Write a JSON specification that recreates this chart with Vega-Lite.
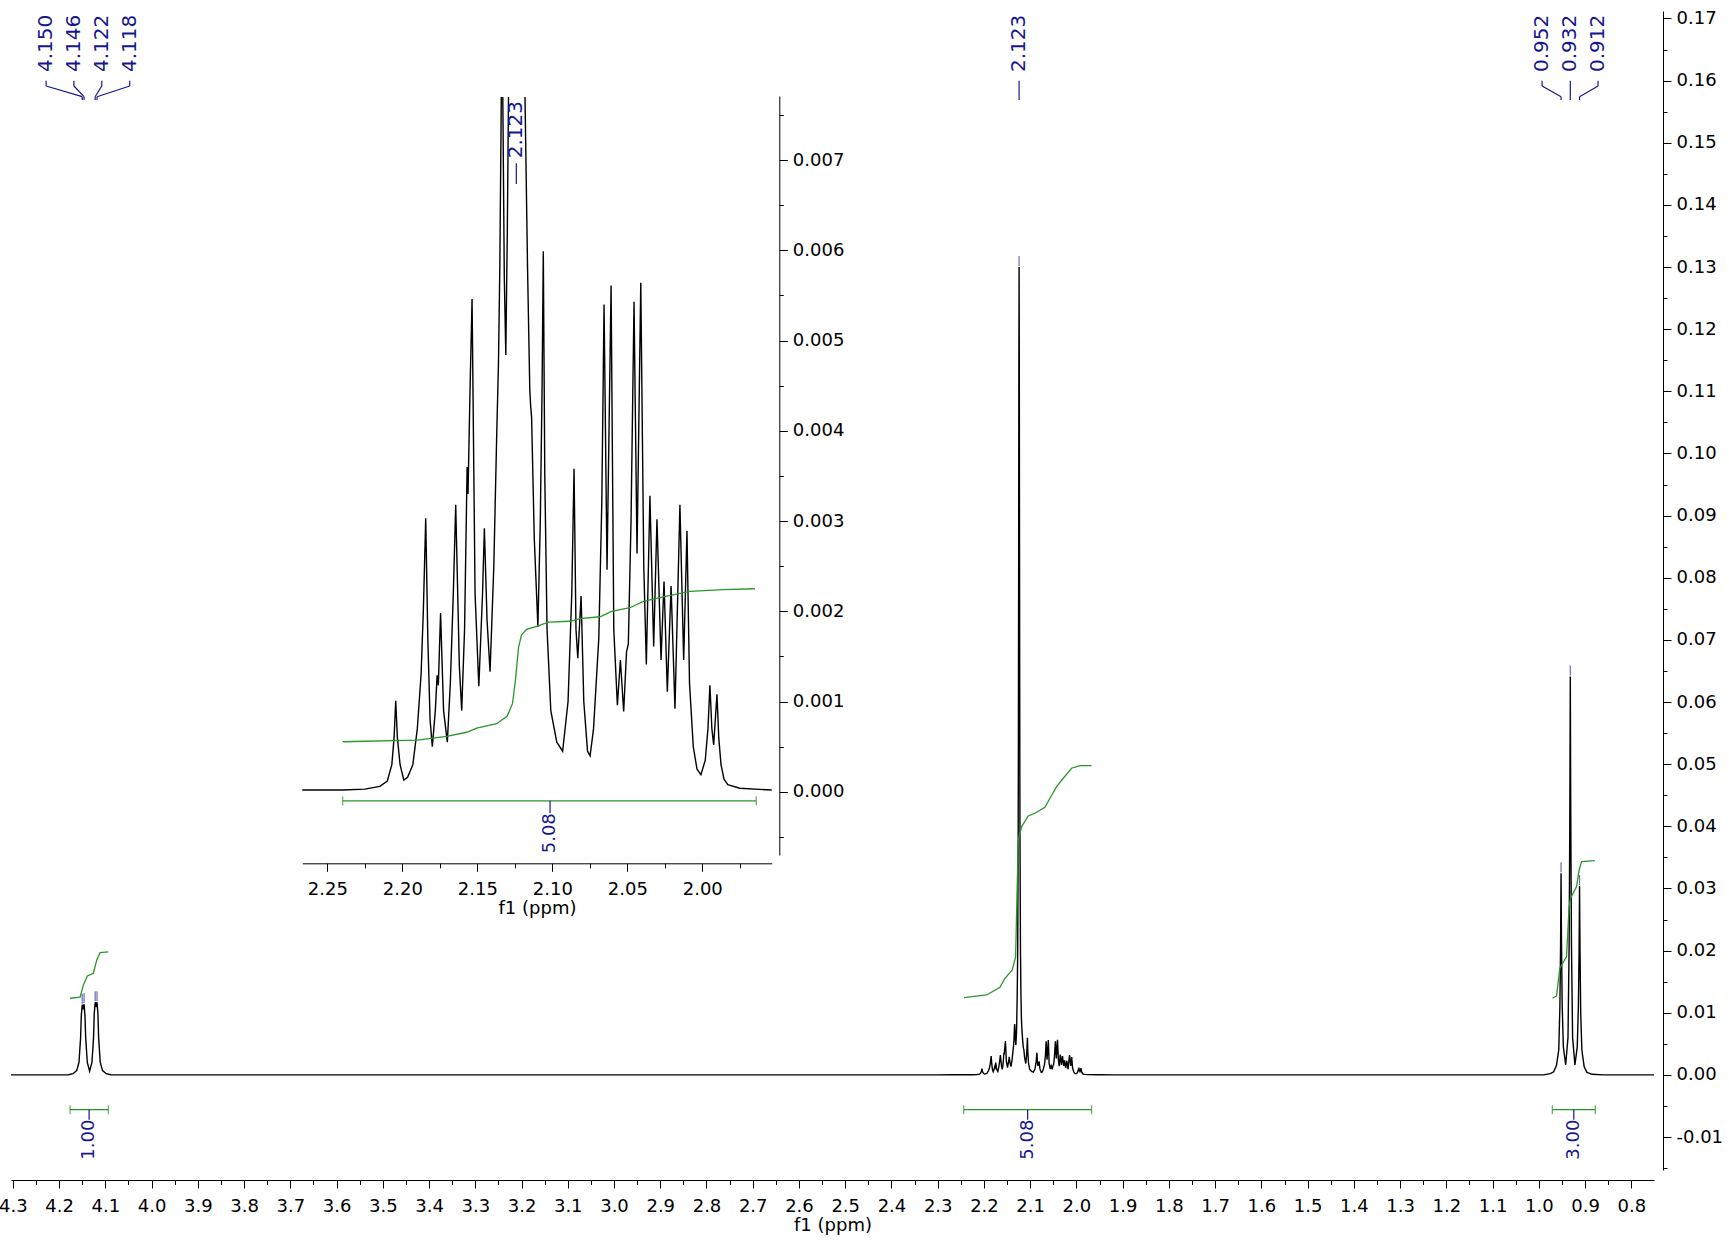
{
 "$schema": "https://vega.github.io/schema/vega-lite/v6.json",
 "width": 1643,
 "height": 1159,
 "autosize": {"type": "none"},
 "padding": {"left": 11, "top": 11, "right": 75, "bottom": 70},
 "background": "white",
 "config": {
  "view": {"stroke": null},
  "axis": {"grid": false, "labelFont": "DejaVu Sans", "labelFontSize": 18, "labelColor": "#000", "titleFont": "DejaVu Sans", "titleFontSize": 18, "titleFontWeight": "normal", "titleColor": "#000", "domainColor": "#000", "tickColor": "#000", "domainWidth": 1, "tickWidth": 1, "labelFlush": false, "labelOverlap": false}
 },
 "datasets": {
  "spec": [
   {"p":4.304,"v":0,"s":"a"},{"p":4.2,"v":0,"s":"a"},{"p":4.180,"v":0.00003,"s":"a"},{"p":4.170,"v":0.0002,"s":"a"},{"p":4.162,"v":0.0007,"s":"a"},{"p":4.157,"v":0.002,"s":"a"},{"p":4.1535,"v":0.006,"s":"a"},{"p":4.152,"v":0.0095,"s":"a"},{"p":4.150,"v":0.0113,"s":"a"},{"p":4.148,"v":0.0108,"s":"a"},{"p":4.146,"v":0.0114,"s":"a"},{"p":4.144,"v":0.0095,"s":"a"},{"p":4.1425,"v":0.006,"s":"a"},{"p":4.139,"v":0.002,"s":"a"},{"p":4.134,"v":0.0006,"s":"a"},{"p":4.129,"v":0.002,"s":"a"},{"p":4.1255,"v":0.006,"s":"a"},{"p":4.124,"v":0.0098,"s":"a"},{"p":4.122,"v":0.0117,"s":"a"},{"p":4.120,"v":0.0112,"s":"a"},{"p":4.118,"v":0.0117,"s":"a"},{"p":4.116,"v":0.0098,"s":"a"},{"p":4.1145,"v":0.006,"s":"a"},{"p":4.111,"v":0.002,"s":"a"},{"p":4.106,"v":0.0007,"s":"a"},{"p":4.098,"v":0.0002,"s":"a"},{"p":4.088,"v":0.00003,"s":"a"},{"p":4.06,"v":0,"s":"a"},
   {"p":2.30,"v":0,"s":"a"},{"p":2.2667,"v":0.00002,"s":"a"},{"p":2.24,"v":0.00002,"s":"a"},{"p":2.225,"v":0.00003,"s":"a"},{"p":2.215,"v":0.00006,"s":"a"},{"p":2.210,"v":0.00012,"s":"a"},{"p":2.207,"v":0.0003,"s":"a"},{"p":2.2055,"v":0.0006,"s":"a"},{"p":2.2044,"v":0.00101,"s":"a"},{"p":2.2033,"v":0.0006,"s":"a"},{"p":2.2015,"v":0.0003,"s":"a"},{"p":2.199,"v":0.00013,"s":"a"},{"p":2.1965,"v":0.00016,"s":"a"},{"p":2.193,"v":0.0003,"s":"a"},{"p":2.190,"v":0.0007,"s":"a"},{"p":2.1875,"v":0.0013,"s":"a"},{"p":2.186,"v":0.002,"s":"a"},{"p":2.1844,"v":0.00303,"s":"a"},{"p":2.183,"v":0.0017,"s":"a"},{"p":2.1815,"v":0.0008,"s":"a"},{"p":2.1800,"v":0.0005,"s":"a"},{"p":2.1780,"v":0.0009,"s":"a"},{"p":2.1768,"v":0.00129,"s":"a"},{"p":2.1760,"v":0.00118,"s":"a"},{"p":2.1745,"v":0.00198,"s":"a"},{"p":2.1725,"v":0.0009,"s":"a"},{"p":2.1700,"v":0.00055,"s":"a"},{"p":2.168,"v":0.0012,"s":"a"},{"p":2.166,"v":0.0022,"s":"a"},{"p":2.1644,"v":0.00318,"s":"a"},{"p":2.162,"v":0.0014,"s":"a"},{"p":2.1604,"v":0.0009,"s":"a"},{"p":2.1585,"v":0.0018,"s":"a"},{"p":2.1568,"v":0.0036,"s":"a"},{"p":2.1562,"v":0.0033,"s":"a"},{"p":2.1548,"v":0.0045,"s":"a"},{"p":2.1535,"v":0.00546,"s":"a"},{"p":2.1515,"v":0.0022,"s":"a"},{"p":2.149,"v":0.00117,"s":"a"},{"p":2.1465,"v":0.0022,"s":"a"},{"p":2.1453,"v":0.00292,"s":"a"},{"p":2.1435,"v":0.0019,"s":"a"},{"p":2.1415,"v":0.00133,"s":"a"},{"p":2.139,"v":0.0025,"s":"a"},{"p":2.137,"v":0.0040,"s":"a"},{"p":2.1359,"v":0.00474,"s":"a"},{"p":2.1350,"v":0.0058,"s":"a"},{"p":2.1340,"v":0.0077,"s":"a"},
   {"p":2.1335,"v":0.0082,"s":"b"},{"p":2.1330,"v":0.0077,"s":"b"},{"p":2.1320,"v":0.0057,"s":"b"},{"p":2.1310,"v":0.00484,"s":"b"},{"p":2.1300,"v":0.0062,"s":"b"},{"p":2.1292,"v":0.0077,"s":"b"},
   {"p":2.129,"v":0.0090,"s":"c"},{"p":2.128,"v":0.0130,"s":"c"},{"p":2.127,"v":0.0200,"s":"c"},{"p":2.126,"v":0.0369,"s":"c"},{"p":2.1255,"v":0.0538,"s":"c"},{"p":2.125,"v":0.0801,"s":"c"},{"p":2.1245,"v":0.1132,"s":"c"},{"p":2.124,"v":0.1300,"s":"c"},{"p":2.1235,"v":0.1132,"s":"c"},{"p":2.123,"v":0.0801,"s":"c"},{"p":2.1225,"v":0.0538,"s":"c"},{"p":2.122,"v":0.0369,"s":"c"},{"p":2.121,"v":0.0200,"s":"c"},{"p":2.120,"v":0.0130,"s":"c"},{"p":2.119,"v":0.0092,"s":"c"},{"p":2.1182,"v":0.0077,"s":"c"},{"p":2.1165,"v":0.0058,"s":"c"},{"p":2.1150,"v":0.00445,"s":"c"},{"p":2.1144,"v":0.00427,"s":"c"},{"p":2.1138,"v":0.00415,"s":"c"},{"p":2.112,"v":0.0028,"s":"c"},{"p":2.1096,"v":0.00183,"s":"c"},{"p":2.108,"v":0.0030,"s":"c"},{"p":2.1068,"v":0.0045,"s":"c"},{"p":2.106,"v":0.00599,"s":"c"},{"p":2.105,"v":0.0035,"s":"c"},{"p":2.1035,"v":0.0018,"s":"c"},{"p":2.101,"v":0.0009,"s":"c"},{"p":2.097,"v":0.00055,"s":"c"},{"p":2.0931,"v":0.00045,"s":"c"},{"p":2.0895,"v":0.0010,"s":"c"},{"p":2.087,"v":0.0022,"s":"c"},{"p":2.0855,"v":0.00358,"s":"c"},{"p":2.0842,"v":0.0018,"s":"c"},{"p":2.0830,"v":0.00148,"s":"c"},{"p":2.0808,"v":0.00217,"s":"c"},{"p":2.079,"v":0.0010,"s":"c"},{"p":2.0765,"v":0.00045,"s":"c"},{"p":2.0748,"v":0.0004,"s":"c"},{"p":2.0725,"v":0.0007,"s":"c"},{"p":2.069,"v":0.0017,"s":"c"},{"p":2.067,"v":0.0032,"s":"c"},{"p":2.0655,"v":0.0054,"s":"c"},{"p":2.0635,"v":0.00246,"s":"c"},{"p":2.0608,"v":0.00561,"s":"c"},{"p":2.059,"v":0.0018,"s":"c"},{"p":2.0566,"v":0.00096,"s":"c"},{"p":2.0546,"v":0.00146,"s":"c"},{"p":2.0524,"v":0.00089,"s":"c"},{"p":2.0505,"v":0.00155,"s":"c"},{"p":2.0493,"v":0.00164,"s":"c"},{"p":2.0475,"v":0.0030,"s":"c"},{"p":2.0455,"v":0.00543,"s":"c"},{"p":2.0435,"v":0.00264,"s":"c"},{"p":2.041,"v":0.00564,"s":"c"},{"p":2.039,"v":0.0025,"s":"c"},{"p":2.0373,"v":0.00141,"s":"c"},{"p":2.0349,"v":0.00328,"s":"c"},{"p":2.0324,"v":0.00161,"s":"c"},{"p":2.0302,"v":0.00302,"s":"c"},{"p":2.0275,"v":0.00146,"s":"c"},{"p":2.0255,"v":0.00233,"s":"c"},{"p":2.0233,"v":0.00111,"s":"c"},{"p":2.0208,"v":0.00228,"s":"c"},{"p":2.0182,"v":0.00092,"s":"c"},{"p":2.0149,"v":0.00318,"s":"c"},{"p":2.0124,"v":0.00146,"s":"c"},{"p":2.0102,"v":0.00289,"s":"c"},{"p":2.0085,"v":0.0012,"s":"c"},{"p":2.006,"v":0.0005,"s":"c"},{"p":2.0035,"v":0.00025,"s":"c"},{"p":2.0009,"v":0.00019,"s":"c"},{"p":1.998,"v":0.00035,"s":"c"},{"p":1.9962,"v":0.0007,"s":"c"},{"p":1.9949,"v":0.00118,"s":"c"},{"p":1.9936,"v":0.0007,"s":"c"},{"p":1.9924,"v":0.00052,"s":"c"},{"p":1.9913,"v":0.0008,"s":"c"},{"p":1.9902,"v":0.00108,"s":"c"},{"p":1.989,"v":0.0006,"s":"c"},{"p":1.9875,"v":0.0003,"s":"c"},{"p":1.9855,"v":0.00014,"s":"c"},{"p":1.983,"v":0.00008,"s":"c"},{"p":1.975,"v":0.00004,"s":"c"},{"p":1.9537,"v":0.00002,"s":"c"},{"p":1.92,"v":0,"s":"c"},
   {"p":0.99,"v":0,"s":"c"},{"p":0.975,"v":0.0002,"s":"c"},{"p":0.968,"v":0.0005,"s":"c"},{"p":0.962,"v":0.0015,"s":"c"},{"p":0.957,"v":0.004,"s":"c"},{"p":0.9545,"v":0.011,"s":"c"},{"p":0.953,"v":0.021,"s":"c"},{"p":0.952,"v":0.03245,"s":"c"},{"p":0.951,"v":0.021,"s":"c"},{"p":0.9495,"v":0.011,"s":"c"},{"p":0.947,"v":0.0045,"s":"c"},{"p":0.942,"v":0.0016,"s":"c"},{"p":0.937,"v":0.006,"s":"c"},{"p":0.9345,"v":0.021,"s":"c"},{"p":0.933,"v":0.042,"s":"c"},{"p":0.932,"v":0.0641,"s":"c"},{"p":0.931,"v":0.042,"s":"c"},{"p":0.9295,"v":0.021,"s":"c"},{"p":0.927,"v":0.006,"s":"c"},{"p":0.922,"v":0.0016,"s":"c"},{"p":0.917,"v":0.0045,"s":"c"},{"p":0.9145,"v":0.011,"s":"c"},{"p":0.913,"v":0.020,"s":"c"},{"p":0.912,"v":0.0304,"s":"c"},{"p":0.911,"v":0.020,"s":"c"},{"p":0.9095,"v":0.010,"s":"c"},{"p":0.907,"v":0.004,"s":"c"},{"p":0.902,"v":0.0013,"s":"c"},{"p":0.896,"v":0.0004,"s":"c"},{"p":0.885,"v":0.0001,"s":"c"},{"p":0.86,"v":0,"s":"c"},{"p":0.751,"v":0,"s":"c"}
  ],
  "mint": [
   {"g":"1","p":4.1762,"v":0.01234},{"g":"1","p":4.1546,"v":0.0125},{"g":"1","p":4.1474,"v":0.01448},{"g":"1","p":4.1388,"v":0.01593},{"g":"1","p":4.1258,"v":0.01636},{"g":"1","p":4.1185,"v":0.0185},{"g":"1","p":4.1114,"v":0.01968},{"g":"1","p":4.0934,"v":0.0198},
   {"g":"2","p":2.2432,"v":0.01244},{"g":"2","p":2.1942,"v":0.01287},{"g":"2","p":2.1654,"v":0.01411},{"g":"2","p":2.1546,"v":0.01555},{"g":"2","p":2.1388,"v":0.0169},{"g":"2","p":2.1315,"v":0.01904},{"g":"2","p":2.1258,"v":0.0378},{"g":"2","p":2.1185,"v":0.03996},{"g":"2","p":2.1042,"v":0.04167},{"g":"2","p":2.0897,"v":0.0421},{"g":"2","p":2.0681,"v":0.04307},{"g":"2","p":2.0573,"v":0.04452},{"g":"2","p":2.0429,"v":0.04639},{"g":"2","p":2.0285,"v":0.04774},{"g":"2","p":2.0105,"v":0.04935},{"g":"2","p":1.9924,"v":0.04977},{"g":"2","p":1.9672,"v":0.04977},
   {"g":"3","p":0.9704,"v":0.01234},{"g":"3","p":0.9617,"v":0.01271},{"g":"3","p":0.9546,"v":0.01717},{"g":"3","p":0.9402,"v":0.01904},{"g":"3","p":0.9345,"v":0.02708},{"g":"3","p":0.9315,"v":0.02843},{"g":"3","p":0.9185,"v":0.0303},{"g":"3","p":0.9129,"v":0.03298},{"g":"3","p":0.9077,"v":0.03432},{"g":"3","p":0.879,"v":0.03448}
  ],
  "iint": [
   {"p":2.2398,"v":0.000555},{"p":2.1900,"v":0.000572},{"p":2.1704,"v":0.000615},{"p":2.1571,"v":0.00066},{"p":2.1504,"v":0.000705},{"p":2.1371,"v":0.000755},{"p":2.1300,"v":0.00084},{"p":2.1265,"v":0.00098},{"p":2.1245,"v":0.00125},{"p":2.1225,"v":0.0016},{"p":2.1205,"v":0.00174},{"p":2.1171,"v":0.0018},{"p":2.1093,"v":0.00184},{"p":2.1027,"v":0.00188},{"p":2.0882,"v":0.00189},{"p":2.0816,"v":0.00192},{"p":2.0682,"v":0.00194},{"p":2.0604,"v":0.002},{"p":2.0482,"v":0.00204},{"p":2.0393,"v":0.00211},{"p":2.026,"v":0.00216},{"p":2.0082,"v":0.00222},{"p":1.986,"v":0.00224},{"p":1.9649,"v":0.00225}
  ],
  "bars": [
   {"a":4.1762,"b":4.0934,"c":4.1351,"t":"1.00"},
   {"a":2.2437,"b":1.9672,"c":2.1055,"t":"5.08"},
   {"a":0.9709,"b":0.8779,"c":0.9244,"t":"3.00"}
  ],
  "ibar": [
   {"a":2.2398,"b":1.964,"c":2.1015,"t":"5.08"}
  ],
  "pk": [
   {"p":4.150,"h":0.0113,"lx":4.2281,"t":"4.150"},
   {"p":4.146,"h":0.0114,"lx":4.168,"t":"4.146"},
   {"p":4.122,"h":0.0117,"lx":4.1077,"t":"4.122"},
   {"p":4.118,"h":0.0117,"lx":4.0473,"t":"4.118"},
   {"p":2.124,"h":0.1300,"lx":2.124,"t":"2.123"},
   {"p":0.952,"h":0.03245,"lx":0.993,"t":"0.952"},
   {"p":0.932,"h":0.0641,"lx":0.932,"t":"0.932"},
   {"p":0.912,"h":0.0304,"lx":0.872,"t":"0.912"}
  ]
 },
 "layer": [
  {
   "layer": [
    {
     "data": {"name": "spec"},
     "mark": {"type": "line", "color": "#000", "strokeWidth": 1.4},
     "encoding": {
      "x": {"field": "p", "type": "quantitative", "scale": {"domain": [4.304, 0.751], "nice": false, "zero": false},
            "axis": {"orient": "bottom", "offset": 10, "values": [4.3,4.2,4.1,4.0,3.9,3.8,3.7,3.6,3.5,3.4,3.3,3.2,3.1,3.0,2.9,2.8,2.7,2.6,2.5,2.4,2.3,2.2,2.1,2.0,1.9,1.8,1.7,1.6,1.5,1.4,1.3,1.2,1.1,1.0,0.9,0.8], "format": ".1f", "tickSize": 8, "labelPadding": 9, "title": "f1 (ppm)", "titlePadding": 1}},
      "y": {"field": "v", "type": "quantitative", "scale": {"domain": [-0.0153, 0.1712], "nice": false, "zero": false},
            "axis": {"orient": "right", "offset": 9, "values": [-0.01,0,0.01,0.02,0.03,0.04,0.05,0.06,0.07,0.08,0.09,0.10,0.11,0.12,0.13,0.14,0.15,0.16,0.17], "labelExpr": "replace(format(datum.value, '.2f'), '\u2212', '-')", "tickSize": 8, "labelPadding": 5, "title": null}}
     }
    },
    {
     "data": {"name": "mint"},
     "mark": {"type": "line", "color": "#2a962a", "strokeWidth": 1.3},
     "encoding": {
      "x": {"field": "p", "type": "quantitative", "scale": {"domain": [4.304, 0.751], "nice": false, "zero": false},
            "axis": {"orient": "bottom", "offset": 10, "values": [4.25,4.15,4.05,3.95,3.85,3.75,3.65,3.55,3.45,3.35,3.25,3.15,3.05,2.95,2.85,2.75,2.65,2.55,2.45,2.35,2.25,2.15,2.05,1.95,1.85,1.75,1.65,1.55,1.45,1.35,1.25,1.15,1.05,0.95,0.85], "labels": false, "domain": false, "tickSize": 4.5, "title": null}},
      "y": {"field": "v", "type": "quantitative", "scale": {"domain": [-0.0153, 0.1712], "nice": false, "zero": false},
            "axis": {"orient": "right", "offset": 9, "values": [-0.015,-0.005,0.005,0.015,0.025,0.035,0.045,0.055,0.065,0.075,0.085,0.095,0.105,0.115,0.125,0.135,0.145,0.155,0.165], "labels": false, "domain": false, "tickSize": 4, "title": null}},
      "detail": {"field": "g"}
     }
    },
    {
     "data": {"name": "bars"},
     "mark": {"type": "rule", "color": "#2a962a", "strokeWidth": 1.3},
     "encoding": {
      "x": {"field": "a", "type": "quantitative", "scale": {"domain": [4.304, 0.751], "nice": false, "zero": false}, "axis": null},
      "x2": {"field": "b"},
      "y": {"datum": -0.0056, "type": "quantitative", "scale": {"domain": [-0.0153, 0.1712], "nice": false, "zero": false}, "axis": null}
     }
    },
    {
     "data": {"name": "bars"},
     "mark": {"type": "tick", "orient": "vertical", "color": "#2a962a", "size": 9, "thickness": 1.3},
     "encoding": {
      "x": {"field": "a", "type": "quantitative", "scale": {"domain": [4.304, 0.751], "nice": false, "zero": false}, "axis": null},
      "y": {"datum": -0.0056, "type": "quantitative", "scale": {"domain": [-0.0153, 0.1712], "nice": false, "zero": false}, "axis": null}
     }
    },
    {
     "data": {"name": "bars"},
     "mark": {"type": "tick", "orient": "vertical", "color": "#2a962a", "size": 9, "thickness": 1.3},
     "encoding": {
      "x": {"field": "b", "type": "quantitative", "scale": {"domain": [4.304, 0.751], "nice": false, "zero": false}, "axis": null},
      "y": {"datum": -0.0056, "type": "quantitative", "scale": {"domain": [-0.0153, 0.1712], "nice": false, "zero": false}, "axis": null}
     }
    },
    {
     "data": {"name": "bars"},
     "mark": {"type": "rule", "color": "#161690", "strokeWidth": 1.2},
     "encoding": {
      "x": {"field": "c", "type": "quantitative", "scale": {"domain": [4.304, 0.751], "nice": false, "zero": false}, "axis": null},
      "y": {"datum": -0.0056, "type": "quantitative", "scale": {"domain": [-0.0153, 0.1712], "nice": false, "zero": false}, "axis": null},
      "y2": {"datum": -0.0072}
     }
    },
    {
     "data": {"name": "bars"},
     "mark": {"type": "text", "angle": 270, "align": "right", "baseline": "middle", "font": "DejaVu Sans", "fontSize": 18, "color": "#161690"},
     "encoding": {
      "x": {"field": "c", "type": "quantitative", "scale": {"domain": [4.304, 0.751], "nice": false, "zero": false}, "axis": null},
      "y": {"datum": -0.0072, "type": "quantitative", "scale": {"domain": [-0.0153, 0.1712], "nice": false, "zero": false}, "axis": null},
      "text": {"field": "t"}
     }
    },
    {
     "data": {"name": "pk"},
     "mark": {"type": "tick", "orient": "vertical", "color": "#2a2aa0", "size": 10, "thickness": 1.2, "yOffset": -6},
     "encoding": {
      "x": {"field": "p", "type": "quantitative", "scale": {"domain": [4.304, 0.751], "nice": false, "zero": false}, "axis": null},
      "y": {"field": "h", "type": "quantitative", "scale": {"domain": [-0.0153, 0.1712], "nice": false, "zero": false}, "axis": null}
     }
    },
    {
     "data": {"name": "pk"},
     "mark": {"type": "rule", "color": "#161690", "strokeWidth": 1.2},
     "encoding": {
      "x": {"field": "lx", "type": "quantitative", "scale": {"domain": [4.304, 0.751], "nice": false, "zero": false}, "axis": null},
      "y": {"datum": 0.15998, "type": "quantitative", "scale": {"domain": [-0.0153, 0.1712], "nice": false, "zero": false}, "axis": null},
      "y2": {"datum": 0.15913}
     }
    },
    {
     "data": {"name": "pk"},
     "mark": {"type": "rule", "color": "#161690", "strokeWidth": 1.2},
     "encoding": {
      "x": {"field": "lx", "type": "quantitative", "scale": {"domain": [4.304, 0.751], "nice": false, "zero": false}, "axis": null},
      "x2": {"field": "p"},
      "y": {"datum": 0.15913, "type": "quantitative", "scale": {"domain": [-0.0153, 0.1712], "nice": false, "zero": false}, "axis": null},
      "y2": {"datum": 0.15741}
     }
    },
    {
     "data": {"name": "pk"},
     "mark": {"type": "rule", "color": "#161690", "strokeWidth": 1.2},
     "encoding": {
      "x": {"field": "p", "type": "quantitative", "scale": {"domain": [4.304, 0.751], "nice": false, "zero": false}, "axis": null},
      "y": {"datum": 0.15741, "type": "quantitative", "scale": {"domain": [-0.0153, 0.1712], "nice": false, "zero": false}, "axis": null},
      "y2": {"datum": 0.15688}
     }
    },
    {
     "data": {"name": "pk"},
     "mark": {"type": "text", "angle": 270, "align": "left", "baseline": "middle", "font": "DejaVu Sans", "fontSize": 20, "color": "#161690"},
     "encoding": {
      "x": {"field": "lx", "type": "quantitative", "scale": {"domain": [4.304, 0.751], "nice": false, "zero": false}, "axis": null},
      "y": {"datum": 0.16138, "type": "quantitative", "scale": {"domain": [-0.0153, 0.1712], "nice": false, "zero": false}, "axis": null},
      "text": {"field": "t"}
     }
    }
   ],
   "resolve": {"axis": {"x": "independent", "y": "independent"}}
  },
  {
   "layer": [
    {
     "data": {"name": "spec"},
     "transform": [{"filter": {"field": "p", "range": [1.9537, 2.2667]}}, {"filter": {"field": "v", "lte": 0.00771}}],
     "mark": {"type": "line", "color": "#000", "strokeWidth": 1.4},
     "encoding": {
      "x": {"field": "p", "type": "quantitative", "scale": {"domain": [2.2667, 1.9537], "range": [291.3, 760.7], "nice": false, "zero": false},
            "axis": {"orient": "bottom", "offset": -306.7, "values": [2.25,2.20,2.15,2.10,2.05,2.00], "format": ".2f", "tickSize": 8, "labelPadding": 9, "title": "f1 (ppm)", "titlePadding": 1}},
      "y": {"field": "v", "type": "quantitative", "scale": {"domain": [-0.0007, 0.00771], "range": [844, 85], "nice": false, "zero": false},
            "axis": {"orient": "right", "offset": -874.7, "values": [0,0.001,0.002,0.003,0.004,0.005,0.006,0.007], "format": ".3f", "tickSize": 8, "labelPadding": 5, "title": null}},
      "detail": {"field": "s"}
     }
    },
    {
     "data": {"name": "iint"},
     "mark": {"type": "line", "color": "#2a962a", "strokeWidth": 1.3},
     "encoding": {
      "x": {"field": "p", "type": "quantitative", "scale": {"domain": [2.2667, 1.9537], "range": [291.3, 760.7], "nice": false, "zero": false},
            "axis": {"orient": "bottom", "offset": -306.7, "values": [2.225,2.175,2.125,2.075,2.025,1.975], "labels": false, "domain": false, "tickSize": 4.5, "title": null}},
      "y": {"field": "v", "type": "quantitative", "scale": {"domain": [-0.0007, 0.00771], "range": [844, 85], "nice": false, "zero": false},
            "axis": {"orient": "right", "offset": -874.7, "values": [-0.0005,0.0005,0.0015,0.0025,0.0035,0.0045,0.0055,0.0065,0.0075], "labels": false, "domain": false, "tickSize": 4, "title": null}}
     }
    },
    {
     "data": {"name": "ibar"},
     "mark": {"type": "rule", "color": "#2a962a", "strokeWidth": 1.3},
     "encoding": {
      "x": {"field": "a", "type": "quantitative", "scale": {"domain": [2.2667, 1.9537], "range": [291.3, 760.7], "nice": false, "zero": false}, "axis": null},
      "x2": {"field": "b"},
      "y": {"datum": -0.0001, "type": "quantitative", "scale": {"domain": [-0.0007, 0.00771], "range": [844, 85], "nice": false, "zero": false}, "axis": null}
     }
    },
    {
     "data": {"name": "ibar"},
     "mark": {"type": "tick", "orient": "vertical", "color": "#2a962a", "size": 9, "thickness": 1.3},
     "encoding": {
      "x": {"field": "a", "type": "quantitative", "scale": {"domain": [2.2667, 1.9537], "range": [291.3, 760.7], "nice": false, "zero": false}, "axis": null},
      "y": {"datum": -0.0001, "type": "quantitative", "scale": {"domain": [-0.0007, 0.00771], "range": [844, 85], "nice": false, "zero": false}, "axis": null}
     }
    },
    {
     "data": {"name": "ibar"},
     "mark": {"type": "tick", "orient": "vertical", "color": "#2a962a", "size": 9, "thickness": 1.3},
     "encoding": {
      "x": {"field": "b", "type": "quantitative", "scale": {"domain": [2.2667, 1.9537], "range": [291.3, 760.7], "nice": false, "zero": false}, "axis": null},
      "y": {"datum": -0.0001, "type": "quantitative", "scale": {"domain": [-0.0007, 0.00771], "range": [844, 85], "nice": false, "zero": false}, "axis": null}
     }
    },
    {
     "data": {"name": "ibar"},
     "mark": {"type": "rule", "color": "#161690", "strokeWidth": 1.2},
     "encoding": {
      "x": {"field": "c", "type": "quantitative", "scale": {"domain": [2.2667, 1.9537], "range": [291.3, 760.7], "nice": false, "zero": false}, "axis": null},
      "y": {"datum": -0.0001, "type": "quantitative", "scale": {"domain": [-0.0007, 0.00771], "range": [844, 85], "nice": false, "zero": false}, "axis": null},
      "y2": {"datum": -0.000237}
     }
    },
    {
     "data": {"name": "ibar"},
     "mark": {"type": "text", "angle": 270, "align": "right", "baseline": "middle", "font": "DejaVu Sans", "fontSize": 18, "color": "#161690"},
     "encoding": {
      "x": {"field": "c", "type": "quantitative", "scale": {"domain": [2.2667, 1.9537], "range": [291.3, 760.7], "nice": false, "zero": false}, "axis": null},
      "y": {"datum": -0.000237, "type": "quantitative", "scale": {"domain": [-0.0007, 0.00771], "range": [844, 85], "nice": false, "zero": false}, "axis": null},
      "text": {"field": "t"}
     }
    },
    {
     "data": {"name": "pk"},
     "transform": [{"filter": {"field": "t", "equal": "2.123"}}],
     "mark": {"type": "rule", "color": "#161690", "strokeWidth": 1.2},
     "encoding": {
      "x": {"field": "p", "type": "quantitative", "scale": {"domain": [2.2667, 1.9537], "range": [291.3, 760.7], "nice": false, "zero": false}, "axis": null},
      "y": {"datum": 0.006966, "type": "quantitative", "scale": {"domain": [-0.0007, 0.00771], "range": [844, 85], "nice": false, "zero": false}, "axis": null},
      "y2": {"datum": 0.006736}
     }
    },
    {
     "data": {"name": "pk"},
     "transform": [{"filter": {"field": "t", "equal": "2.123"}}],
     "mark": {"type": "text", "angle": 270, "align": "left", "baseline": "middle", "font": "DejaVu Sans", "fontSize": 20, "color": "#161690"},
     "encoding": {
      "x": {"field": "lx", "type": "quantitative", "scale": {"domain": [2.2667, 1.9537], "range": [291.3, 760.7], "nice": false, "zero": false}, "axis": null},
      "y": {"datum": 0.00702, "type": "quantitative", "scale": {"domain": [-0.0007, 0.00771], "range": [844, 85], "nice": false, "zero": false}, "axis": null},
      "text": {"field": "t"}
     }
    }
   ],
   "resolve": {"axis": {"x": "independent", "y": "independent"}}
  }
 ],
 "resolve": {"scale": {"x": "independent", "y": "independent"}, "axis": {"x": "independent", "y": "independent"}}
}
